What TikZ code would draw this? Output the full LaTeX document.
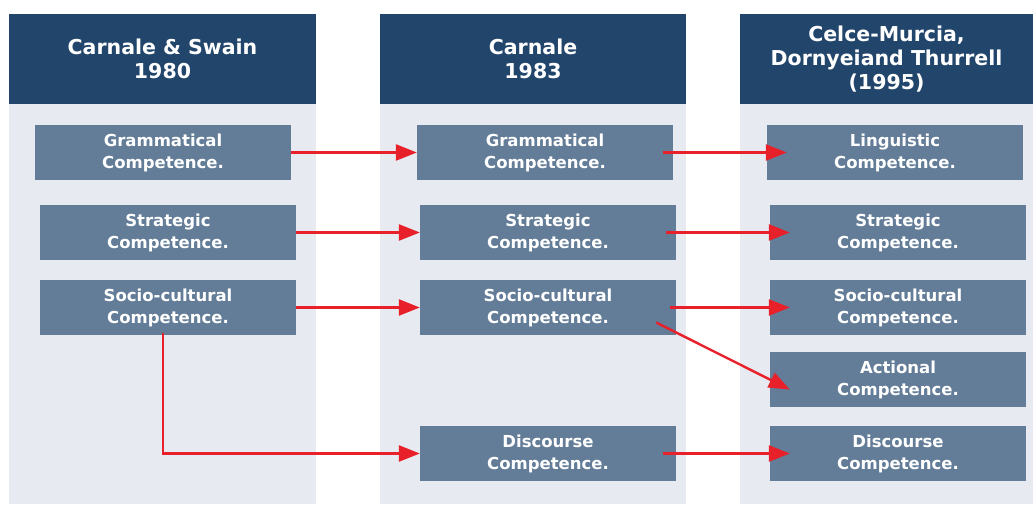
\documentclass[tikz,border=0pt]{standalone}
\usepackage{fontspec}
\setmainfont{DejaVu Sans}
\usetikzlibrary{arrows.meta, calc, positioning}
\definecolor{headblue}{HTML}{21456B}
\definecolor{bodygrey}{HTML}{E7EAF0}
\definecolor{boxblue}{HTML}{637D98}
\definecolor{arrowred}{HTML}{E8202A}

\begin{document}
\begin{tikzpicture}[x=1pt, y=-1pt,
    head/.style={rectangle, fill=headblue, text=white, font=\bfseries\fontsize{20.5}{24}\selectfont, align=center, inner sep=0pt, minimum height=90pt},
    comp/.style={rectangle, fill=boxblue, text=white, font=\bfseries\fontsize{16.5}{22}\selectfont, align=center, minimum width=256pt, minimum height=55pt, inner sep=0pt},
    link/.style={draw=arrowred, line width=2.4pt, -{Triangle[length=21pt, width=16pt]}}]
    \useasboundingbox (0,0) rectangle (1033,504);

    % column backgrounds
    \foreach \xa/\xb in {9/316, 380/686, 740/1033} {
        \fill[bodygrey] (\xa,104) rectangle (\xb,504);
    }

    % headers
    \node[head, minimum width=307pt] (h1) at (162.5,59) {Carnale \& Swain\\1980};
    \node[head, minimum width=306pt] (h2) at (533,59) {Carnale\\1983};
    \node[head, minimum width=293pt] (h3) at (886.5,59) {Celce-Murcia,\\Dornyeiand Thurrell\\(1995)};

    % Carnale & Swain 1980
    \node[comp] (g1) at (163,152.5) {Grammatical\\Competence.};
    \node[comp] (s1) at (168,232.5) {Strategic\\Competence.};
    \node[comp] (sc1) at (168,307.5) {Socio-cultural\\Competence.};

    % Carnale 1983
    \node[comp] (g2) at (545,152.5) {Grammatical\\Competence.};
    \node[comp] (s2) at (548,232.5) {Strategic\\Competence.};
    \node[comp] (sc2) at (548,307.5) {Socio-cultural\\Competence.};
    \node[comp] (d2) at (548,453.5) {Discourse\\Competence.};

    % Celce-Murcia et al. 1995
    \node[comp] (l3) at (895,152.5) {Linguistic\\Competence.};
    \node[comp] (s3) at (898,232.5) {Strategic\\Competence.};
    \node[comp] (sc3) at (898,307.5) {Socio-cultural\\Competence.};
    \node[comp] (a3) at (898,379.5) {Actional\\Competence.};
    \node[comp] (d3) at (898,453.5) {Discourse\\Competence.};

    % links
    \draw[link] (g1.east) -- (g2.west);
    \draw[link] (s1.east) -- (s2.west);
    \draw[link] (sc1.east) -- (sc2.west);
    \draw[link] ($(sc1.south)+(-5,-2)$) |- (d2.west);
    \draw[link] ($(g2.east)+(-10,0)$) -- ($(l3.west)+(20,0)$);
    \draw[link] ($(s2.east)+(-10,0)$) -- ($(s3.west)+(20,0)$);
    \draw[link] ($(sc2.east)+(-6,0)$) -- ($(sc3.west)+(20,0)$);
    \draw[link] ($(sc2.east)+(-20,15)$) -- ($(a3.west)+(20,10)$);
    \draw[link] ($(d2.east)+(-13,0)$) -- ($(d3.west)+(20,0)$);
\end{tikzpicture}
\end{document}
